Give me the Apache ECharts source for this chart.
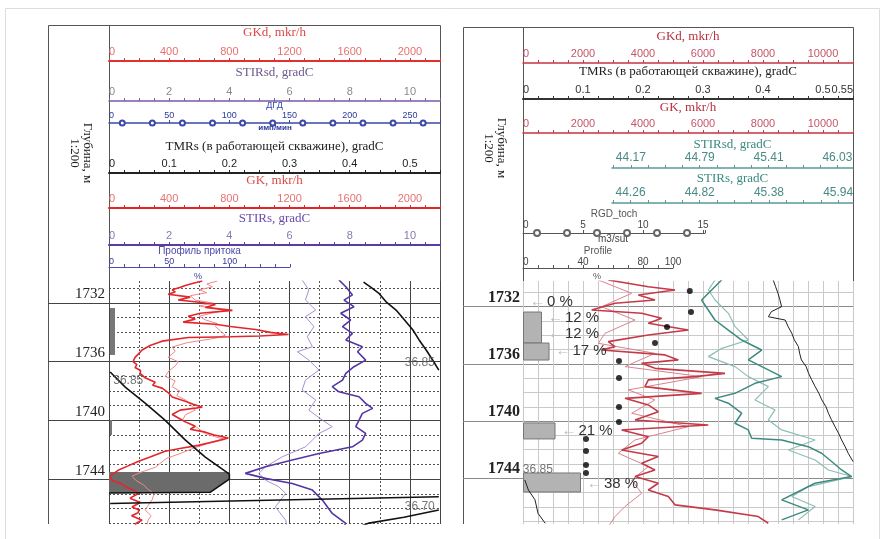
<!DOCTYPE html>
<html>
<head>
<meta charset="utf-8">
<script src="https://cdn.jsdelivr.net/npm/echarts@6/dist/echarts.min.js"></script>
<style>
html,body{margin:0;padding:0;background:#fff}
#chart{width:886px;height:539px}
</style>
</head>
<body>
<div id="chart"></div>
<script>
// ---- depth marks
const depthLabels = [1732, 1736, 1740, 1744];
const depthMinor = [1731, 1733, 1734, 1735, 1737, 1738, 1739, 1741, 1742, 1743, 1745, 1746, 1747];
const depthAll = [1731, 1732, 1733, 1734, 1735, 1736, 1737, 1738, 1739, 1740, 1741, 1742, 1743, 1744, 1745, 1746, 1747];

// ---- left panel tick labels
const lGkLabels = [0, 400, 800, 1200, 1600, 2000];
const lStirLabels = [0, 2, 4, 6, 8, 10];
const lDgdLabels = [0, 50, 100, 150, 200, 250];
const lDgdMarks = [11, 36, 61, 86, 111, 136, 161, 186, 211, 236, 261];
const lTmrLabels = [0, 0.1, 0.2, 0.3, 0.4, 0.5];
const lProfLabels = [0, 50, 100];
const lGridDot = [200, 600, 1000, 1400, 1800];

// ---- right panel tick labels
const rGkLabels = [0, 2000, 4000, 6000, 8000, 10000];
const rTmrLabels = [0, 0.1, 0.2, 0.3, 0.4, 0.5, 0.55];
const rStirsdLabels = [44.0, 44.17, 44.79, 45.41, 46.03, 46.17];
const rStirsLabels = [44.11, 44.26, 44.82, 45.38, 45.94, 46.06];
const rRgdLabels = [0, 5, 10, 15];
const rRgdMarks = [1.17, 3.67, 6.17, 8.67, 11.17, 13.67];
const rProfLabels = [0, 40, 80, 100];

// ---- left panel curves [value, depth]
const lGK = [[620,1730.5],[560,1730.65],[507,1730.8],[470,1730.95],[420,1731.1],[440,1731.25],[393,1731.4],[540,1731.6],[460,1731.8],[600,1731.95],[707,1732.1],[640,1732.3],[820,1732.5],[607,1732.7],[527,1732.9],[573,1733.1],[493,1733.3],[707,1733.45],[807,1733.6],[973,1733.8],[1073,1734.0],[1193,1734.15],[1000,1734.25],[807,1734.3],[527,1734.35],[353,1734.6],[273,1734.9],[220,1735.2],[193,1735.5],[173,1735.7],[160,1736.0],[185,1736.2],[173,1736.4],[210,1736.6],[207,1736.8],[240,1737.1],[307,1737.4],[290,1737.6],[353,1737.8],[393,1738.1],[420,1738.4],[507,1738.7],[560,1738.9],[620,1739.1],[473,1739.3],[420,1739.6],[473,1739.9],[507,1740.1],[573,1740.4],[540,1740.6],[640,1740.8],[700,1741.0],[793,1741.2],[673,1741.5],[593,1741.7],[480,1741.9],[373,1742.1],[273,1742.5],[193,1742.8],[127,1743.1],[60,1743.4],[7,1743.8],[20,1744.1],[80,1744.3],[107,1744.5],[173,1744.8],[193,1745.0],[140,1745.3],[207,1745.6],[153,1745.9],[200,1746.1],[193,1746.3],[150,1746.5],[220,1746.8],[180,1747.0],[173,1747.2]];
const lGKd = [[720,1730.5],[650,1730.7],[687,1730.9],[600,1731.1],[650,1731.3],[540,1731.5],[573,1731.8],[690,1732.0],[600,1732.2],[773,1732.5],[680,1732.7],[600,1732.9],[640,1733.15],[720,1733.4],[707,1733.6],[740,1733.9],[773,1734.2],[707,1734.4],[520,1734.7],[420,1735.0],[440,1735.3],[393,1735.7],[460,1736.0],[440,1736.3],[400,1736.6],[373,1737.0],[440,1737.3],[420,1737.7],[470,1738.0],[450,1738.3],[507,1738.6],[540,1738.9],[573,1739.3],[510,1739.6],[487,1740.0],[560,1740.3],[600,1740.6],[640,1740.9],[700,1741.1],[773,1741.3],[650,1741.6],[560,1741.9],[487,1742.2],[380,1742.6],[307,1743.2],[220,1743.5],[153,1743.8],[180,1744.1],[230,1744.4],[260,1744.7],[300,1745.0],[287,1745.4],[260,1745.8],[240,1746.1],[280,1746.5],[260,1746.8],[250,1747.2]];
const lSTIRs = [[7.64,1730.43],[7.87,1730.89],[8.09,1731.45],[7.81,1731.8],[8.14,1732.25],[7.7,1732.7],[8.03,1733.16],[7.76,1733.61],[8.09,1734.07],[7.87,1734.52],[8.42,1734.98],[8.26,1735.32],[8.53,1735.89],[8.14,1736.34],[7.87,1736.8],[7.76,1737.25],[7.42,1737.7],[7.64,1738.05],[8.31,1738.39],[8.53,1738.84],[8.76,1739.18],[8.42,1739.52],[8.31,1739.98],[8.2,1740.43],[8.53,1740.89],[8.42,1741.34],[8.09,1741.8],[6.98,1742.25],[6.09,1742.7],[5.2,1743.16],[4.53,1743.61],[5.2,1743.95],[6.09,1744.3],[6.76,1744.75],[7.09,1745.43],[7.42,1746.34],[7.87,1747.02],[7.64,1747.7]];
const lSTIRsd = [[6.42,1730.43],[6.64,1731.11],[6.53,1731.8],[6.87,1732.48],[6.53,1732.93],[6.81,1733.61],[6.59,1734.3],[6.76,1734.98],[6.26,1735.32],[6.64,1735.89],[6.98,1736.57],[6.53,1737.25],[6.42,1737.93],[6.87,1738.61],[6.64,1739.3],[7.09,1739.98],[7.42,1740.43],[6.98,1740.89],[6.76,1741.34],[6.53,1741.8],[5.76,1742.48],[5.2,1743.16],[4.98,1743.61],[5.2,1744.07],[5.64,1744.52],[5.87,1744.98],[5.53,1745.89],[5.87,1746.8],[5.98,1747.7]];
const lTmrA = [[0.423,1730.57],[0.436,1730.95],[0.448,1731.32],[0.46,1731.9],[0.477,1732.48],[0.49,1733.1],[0.505,1733.84],[0.515,1734.5],[0.527,1735.2],[0.538,1735.9],[0.548,1736.57]];
const lTmrB = [[0.002,1736.7],[0.027,1737.73],[0.06,1738.82],[0.093,1739.98],[0.127,1741.34],[0.16,1742.5],[0.2,1743.66],[0.2,1744.0],[0.168,1744.9],[0.0,1744.95]];
const lTmrC = [[0.548,1745.2],[0.002,1745.66]];
const lTmrD = [[0.548,1746.1],[0.49,1746.6],[0.432,1747.0],[0.4,1747.5]];
const lTmrNotes = [[0.548,1736.57,'36.85'],[0.002,1736.7,'36.85'],[0.548,1746.1,'36.70']];
const lProfile = [[0,1743.52],[100,1743.52],[100,1744.0],[84,1744.95],[0,1744.95]];
const lPerf = [[1732.34,1735.54],[1739.98,1741.0]];

// ---- right panel curves [value, depth]
const rGK = [[2844,1730.13],[4177,1730.6],[5066,1730.83],[3844,1731.18],[4399,1731.53],[3066,1731.76],[2288,1732.23],[3955,1732.46],[4621,1732.81],[4177,1733.16],[5510,1733.63],[4177,1733.98],[2844,1734.44],[3066,1734.79],[2622,1735.03],[4733,1735.37],[5177,1735.72],[3955,1735.96],[4399,1736.31],[6732,1736.66],[5732,1736.89],[4177,1737.12],[4066,1737.59],[5955,1738.06],[3399,1738.41],[4177,1738.87],[4510,1739.34],[3733,1739.92],[6177,1740.27],[3288,1740.62],[4177,1741.09],[3955,1741.55],[3288,1742.02],[4510,1742.48],[3955,1742.95],[4399,1743.42],[3733,1743.88],[4510,1744.35],[4177,1744.82],[4844,1745.28],[5066,1745.86],[6399,1746.21],[7843,1746.68],[8176,1747.15]];
const rGKd = [[2511,1730.13],[3622,1731.06],[2622,1732.0],[3733,1732.93],[2733,1733.86],[2511,1734.56],[4399,1735.26],[3399,1736.19],[5955,1736.89],[3510,1737.82],[4399,1738.52],[3622,1739.45],[5510,1740.39],[3733,1741.32],[3177,1742.25],[4177,1743.18],[3622,1744.12],[3955,1745.05],[3399,1745.98],[3066,1746.68],[2844,1747.38]];
const rSTIRs = [[44.997,1730.13],[44.916,1730.83],[44.835,1731.53],[44.889,1732.23],[44.943,1732.93],[45.051,1733.63],[45.159,1734.33],[45.321,1735.03],[45.213,1735.72],[45.375,1736.42],[45.483,1736.89],[45.267,1737.36],[45.105,1738.06],[44.943,1738.41],[45.051,1738.75],[45.159,1739.45],[45.105,1740.15],[45.213,1740.62],[45.24,1741.2],[45.483,1741.32],[45.698,1741.79],[45.806,1742.25],[45.887,1742.83],[45.968,1743.42],[46.049,1743.88],[45.752,1744.35],[45.644,1744.82],[45.483,1745.51],[45.698,1746.21],[45.483,1746.91]];
const rSTIRsd = [[44.928,1730.13],[44.868,1730.83],[44.928,1731.53],[45.048,1732.46],[45.108,1733.39],[45.228,1734.33],[44.988,1734.91],[44.868,1735.49],[45.108,1736.19],[45.228,1736.89],[45.408,1737.59],[45.288,1738.52],[45.468,1739.22],[45.408,1739.92],[45.528,1740.62],[45.829,1741.32],[45.588,1742.02],[45.829,1742.72],[45.949,1743.42],[46.159,1743.88],[45.769,1744.58],[45.619,1745.28],[45.829,1745.98],[45.679,1746.91]];
const rTmrA = [[0.417,1730.13],[0.421,1730.6],[0.425,1731.06],[0.428,1731.5],[0.431,1732.0],[0.414,1732.34],[0.409,1732.7],[0.437,1732.93],[0.442,1733.4],[0.448,1733.86],[0.452,1734.3],[0.459,1734.79],[0.461,1735.25],[0.464,1735.72],[0.472,1736.2],[0.476,1736.66],[0.481,1737.1],[0.487,1737.59],[0.493,1738.05],[0.498,1738.52],[0.505,1739.0],[0.509,1739.45],[0.514,1739.9],[0.52,1740.39],[0.526,1740.85],[0.531,1741.32],[0.537,1741.8],[0.542,1742.25],[0.55,1742.83]];
const rTmrB = [[0.003,1744.12],[0.009,1744.82],[0.02,1745.51],[0.025,1746.45],[0.037,1747.15]];
const rTmrNotes = [[0.003,1744.12,'36.85']];
const rRgdPoints = [[13.9,1730.9],[14.0,1732.37],[12.0,1733.42],[11.0,1734.54],[8.0,1735.8],[8.0,1736.99],[8.0,1739.01],[8.0,1740.06],[5.25,1741.25],[5.25,1742.09],[5.25,1743.07],[5.25,1743.63]];
const rProfBars = [[12,1732.37,1734.54],[17,1734.54,1735.73],[21,1740.13,1741.25],[38,1743.63,1744.96]];
const rProfNotes = [[0,1731.67,'0 %'],[12,1732.79,'12 %'],[12,1733.91,'12 %'],[17,1735.1,'17 %'],[21,1740.69,'21 %'],[38,1744.4,'38 %']];

const SANS = '"Liberation Sans", Arial, sans-serif';
const SERIF = '"Liberation Serif", "Times New Roman", serif';
const plain = v => String(v);

const grids = [], xAxes = [], yAxes = [], series = [];
const hidden = {splitLine:{show:false}, axisLine:{show:false}, axisTick:{show:false}, axisLabel:{show:false}};

function addLayer(box, xa, ya) {
  const i = grids.length;
  grids.push(Object.assign({containLabel:false, outerBoundsMode:'none'}, box));
  xAxes.push(Object.assign({type:'value', gridIndex:i}, hidden, xa));
  yAxes.push(Object.assign({type:'value', gridIndex:i}, hidden, ya));
  return i;
}

// a header scale: axis line at y, labels and title above it
function header(o) {
  return addLayer({left:o.left, width:o.width, top:o.y, height:4}, {
    position:'top', min:o.min, max:o.max, interval:o.interval,
    axisLine:{show:true, onZero:false, lineStyle:{color:o.color, width:o.lw || 1.5}},
    axisTick:{show:true, length:3, customValues:o.ticks, lineStyle:{color:o.color, width:1}},
    axisLabel:{show:true, customValues:o.labels, color:o.labelColor || o.color, fontSize:o.fs || 11,
      fontFamily:SANS, margin:o.margin == null ? 4 : o.margin,
      alignMinLabel:'left', alignMaxLabel:o.alignMax || 'center', formatter:o.fmt || plain},
    name:o.name, nameLocation:'middle', nameGap:o.gap,
    nameTextStyle:{color:o.nameColor || o.color, fontSize:o.nfs || 13, fontFamily:o.nff || SERIF}
  }, {min:0, max:1});
}

const PT = 281, PH = 243;
const LY = {min:1730.5, max:1747.06, inverse:true};
const RY = {min:1730.2, max:1747.2, inverse:true};
function plot(left, width, xmin, xmax, yr, xa, ya) {
  return addLayer({left:left, width:width, top:PT, height:PH},
    Object.assign({min:xmin, max:xmax}, xa || {}),
    Object.assign({}, yr, ya || {}));
}
function curve(i, data, color, width) {
  series.push({type:'line', xAxisIndex:i, yAxisIndex:i, data:data, showSymbol:false, symbol:'none',
    lineStyle:{color:color, width:width}, clip:true, z:3});
}
function notes(i, list, pos) {
  series.push({type:'scatter', xAxisIndex:i, yAxisIndex:i, symbolSize:2, clip:false, z:4,
    itemStyle:{color:'rgba(0,0,0,0)'},
    data:list.map((n, k) => ({value:[n[0], n[1]],
      label:Object.assign({show:true, formatter:n[2], color:'#555', fontSize:12, fontFamily:SANS}, pos[k])}))});
}

// ================= LEFT PANEL =================
header({left:109, width:331, y:61, min:0, max:2200, interval:100, labels:lGkLabels, color:'#e0302f', labelColor:'#e57272', nameColor:'#e04848', name:'GKd, mkr/h', gap:22, lw:2});
header({left:109, width:331, y:101, min:0, max:11, interval:0.5, labels:lStirLabels, color:'#7a5aaa', labelColor:'#8a8a8a', nameColor:'#6c5a8c', name:'STIRsd, gradC', gap:22});
const lDgd = header({left:109, width:331, y:123, min:0, max:275, interval:50, labels:lDgdLabels, color:'#3a48a8', labelColor:'#2a3a9a', name:'ДГД', gap:11, fs:9, nfs:9, nff:SANS, margin:3});
series.push({type:'line', xAxisIndex:lDgd, yAxisIndex:lDgd, data:lDgdMarks.map(v => [v, 1]), symbol:'emptyCircle',
  symbolSize:5, showSymbol:true, lineStyle:{opacity:0}, itemStyle:{color:'#3a48a8', borderWidth:1}, clip:false, z:5});
header({left:109, width:331, y:173, min:0, max:0.55, interval:0.025, labels:lTmrLabels, color:'#222', labelColor:'#222', name:'TMRs (в работающей скважине), gradC', gap:20, lw:2});
header({left:109, width:331, y:208, min:0, max:2200, interval:100, labels:lGkLabels, color:'#e02525', labelColor:'#e57272', nameColor:'#e04848', name:'GK, mkr/h', gap:21, lw:2});
header({left:109, width:331, y:245, min:0, max:11, interval:0.5, labels:lStirLabels, color:'#5a3aa5', labelColor:'#8a78b0', nameColor:'#6a4aaa', name:'STIRs, gradC', gap:20, lw:2});
header({left:109, width:181, y:267, min:0, max:150, interval:12.5, labels:lProfLabels, color:'#4a4aaa', labelColor:'#3a3a9a', name:'Профиль притока', gap:8, fs:9, nfs:10, nff:SANS, margin:1, lw:1});

// grid lines
plot(109, 331, 0, 2200, LY,
  {axisTick:{show:false, customValues:lGridDot}, splitLine:{show:true, lineStyle:{color:'#555', type:[2, 2], width:1}}},
  {axisTick:{show:false, customValues:depthMinor}, splitLine:{show:true, lineStyle:{color:'#555', type:[2, 2], width:1}}});
plot(109, 331, 0, 2200, LY, {interval:400, splitLine:{show:true, lineStyle:{color:'#444', width:1}}}, {});
plot(48, 392, 0, 1, LY, {}, {
  axisTick:{show:false, customValues:depthLabels},
  axisLabel:{show:true, inside:true, customValues:depthLabels, formatter:plain, margin:57, align:'right', verticalAlign:'bottom',
    fontFamily:SERIF, fontSize:15, color:'#222', padding:[0, 0, 1, 0]},
  splitLine:{show:true, lineStyle:{color:'#444', width:1}}});

// profile fill and perforations
const lProf = plot(109, 331, 0, 275.83, LY);
series.push({type:'custom', xAxisIndex:lProf, yAxisIndex:lProf, data:[[0, 1744]], clip:true, z:2,
  renderItem:(p, api) => ({type:'polygon', shape:{points:lProfile.map(pt => api.coord(pt))}, style:{fill:'#6b6b6b'}})});
const lGk = plot(109, 331, 0, 2200, LY);
series.push({type:'custom', xAxisIndex:lGk, yAxisIndex:lGk, data:lPerf.map(d => [0, d[0], d[1]]), clip:false, z:2,
  renderItem:(p, api) => {
    const a = api.coord([0, api.value(1)]), b = api.coord([0, api.value(2)]);
    const w = p.dataIndex === 0 ? 5 : 2;
    return {type:'rect', shape:{x:a[0] + 1, y:a[1], width:w, height:b[1] - a[1]}, style:{fill:'#777'}};
  }});
curve(lGk, lGKd, '#ee8a8a', 1);
curve(lGk, lGK, '#e3262b', 1.6);
const lStir = plot(109, 331, 0, 11, LY);
curve(lStir, lSTIRsd, '#a890d2', 1);
curve(lStir, lSTIRs, '#5535a5', 1.6);
const lTmr = plot(109, 331, 0, 0.55, LY);
[lTmrA, lTmrB, lTmrC, lTmrD].forEach(s => curve(lTmr, s, '#111', 1.6));
notes(lTmr, lTmrNotes, [{position:'left', offset:[2, -7]}, {position:'right', offset:[-3, 9]}, {position:'left', offset:[2, -3]}]);

// ================= RIGHT PANEL =================
header({left:523, width:330, y:63, min:0, max:11000, interval:500, labels:rGkLabels, color:'#c53545', labelColor:'#c4566a', nameColor:'#b8303f', name:'GKd, mkr/h', gap:20});
header({left:523, width:330, y:99, min:0, max:0.55, interval:0.025, labels:rTmrLabels, color:'#333', labelColor:'#333', nameColor:'#222', name:'TMRs (в работающей скважине), gradC', gap:21, alignMax:'right', lw:2});
header({left:523, width:330, y:133, min:0, max:11000, interval:500, labels:rGkLabels, color:'#c53545', labelColor:'#c4566a', nameColor:'#b8303f', name:'GK, mkr/h', gap:19});
const tealTicks = (a, b, s) => { const t = []; for (let v = a; v <= b + 1e-9; v += s) t.push(+v.toFixed(3)); return t; };
header({left:612, width:241, y:168, min:44.0, max:46.17, ticks:tealTicks(44.015, 46.17, 0.155), labels:rStirsdLabels, color:'#5a9a94', labelColor:'#4a8a86', nameColor:'#3a8a80', name:'STIRsd, gradC', gap:17, alignMax:'right', fs:12, fmt:v => v.toFixed(2)});
header({left:612, width:241, y:203, min:44.11, max:46.06, ticks:tealTicks(44.12, 46.06, 0.14), labels:rStirsLabels, color:'#5a9a94', labelColor:'#4a8a86', nameColor:'#3a8a80', name:'STIRs, gradC', gap:18, alignMax:'right', fs:12, fmt:v => v.toFixed(2)});
const rRgdH = header({left:523, width:182, y:233, min:0, max:15.17, interval:5, labels:rRgdLabels, color:'#555', labelColor:'#444', name:'RGD_toch', gap:13, fs:10, nfs:10, nff:SANS, margin:3, lw:1});
series.push({type:'line', xAxisIndex:rRgdH, yAxisIndex:rRgdH, data:rRgdMarks.map(v => [v, 1]), symbol:'emptyCircle',
  symbolSize:6, showSymbol:true, lineStyle:{opacity:0}, itemStyle:{color:'#666', borderWidth:1}, clip:false, z:5});
header({left:523, width:150, y:268, min:0, max:100, interval:10, labels:rProfLabels, color:'#555', labelColor:'#444', name:'Profile', gap:10, fs:10, nfs:10, nff:SANS, margin:1, lw:1});

// grid lines
plot(523, 330, 0, 11000, RY,
  {interval:500, splitLine:{show:true, lineStyle:{color:'#c9c9c9', width:1}}},
  {axisTick:{show:false, customValues:depthAll}, splitLine:{show:true, lineStyle:{color:'#c9c9c9', width:1}}});
plot(463, 390, 0, 1, RY, {}, {
  axisTick:{show:false, customValues:depthLabels},
  axisLabel:{show:true, inside:true, customValues:depthLabels, formatter:plain, margin:57, align:'right', verticalAlign:'bottom',
    fontFamily:SERIF, fontSize:16, fontWeight:'bold', color:'#222', padding:[0, 0, 1, 0]},
  splitLine:{show:true, lineStyle:{color:'#8a8a8a', width:1}}});

// profile bars and notes
const rProf = plot(523, 330, 0, 220, RY);
series.push({type:'custom', xAxisIndex:rProf, yAxisIndex:rProf, data:rProfBars, clip:true, z:2,
  renderItem:(p, api) => {
    const a = api.coord([0, api.value(1)]), b = api.coord([api.value(0), api.value(2)]);
    return {type:'rect', shape:{x:a[0] + 0.5, y:a[1], width:b[0] - a[0], height:b[1] - a[1]},
      style:{fill:'#b3b3b3', stroke:'#777', lineWidth:1}};
  }});
series.push({type:'custom', xAxisIndex:rProf, yAxisIndex:rProf, data:rProfNotes.map(n => [n[0], n[1]]), clip:false, z:4,
  renderItem:(p, api) => {
    const c = api.coord([api.value(0), api.value(1)]);
    return {type:'group', children:[
      {type:'text', x:c[0] + 7, y:c[1], style:{text:'←', fill:'#bbb', font:'15px ' + SANS, verticalAlign:'middle', textVerticalAlign:'middle'}},
      {type:'text', x:c[0] + 24, y:c[1], style:{text:rProfNotes[p.dataIndex][2], fill:'#333', font:'15px ' + SANS, verticalAlign:'middle', textVerticalAlign:'middle'}}
    ]};
  }});
const rGk = plot(523, 330, 0, 11000, RY);
curve(rGk, rGKd, '#d9828c', 1);
curve(rGk, rGK, '#c53a48', 1.6);
const rStirsd = plot(612, 241, 44.0, 46.17, RY);
curve(rStirsd, rSTIRsd, '#8cbdb6', 1.2);
const rStirs = plot(612, 241, 44.11, 46.06, RY);
curve(rStirs, rSTIRs, '#3f8a80', 1.5);
const rTmr = plot(523, 330, 0, 0.55, RY);
curve(rTmr, rTmrA, '#222', 1);
curve(rTmr, rTmrB, '#222', 1);
notes(rTmr, rTmrNotes, [{position:'right', offset:[-8, -10]}]);
const rRgd = plot(523, 330, 0, 27.5, RY);
series.push({type:'scatter', xAxisIndex:rRgd, yAxisIndex:rRgd, data:rRgdPoints, symbolSize:6, itemStyle:{color:'#000'}, z:5});

// ================= frames and free text =================
const frame = {stroke:'#555', lineWidth:1, fill:null};
const graphic = [
  {type:'rect', silent:true, z:-1, shape:{x:5.5, y:8.5, width:874, height:560}, style:{stroke:'#ddd', lineWidth:1, fill:'rgba(0,0,0,0)'}},
  {type:'polyline', silent:true, shape:{points:[[48.5, 524], [48.5, 25.5], [440.5, 25.5], [440.5, 524]]}, style:frame},
  {type:'line', silent:true, shape:{x1:109.5, y1:25.5, x2:109.5, y2:524}, style:frame},
  {type:'polyline', silent:true, shape:{points:[[463.5, 524], [463.5, 27.5], [853.5, 27.5], [853.5, 524]]}, style:frame},
  {type:'line', silent:true, shape:{x1:523.5, y1:27.5, x2:523.5, y2:524}, style:frame},
  {type:'text', silent:true, x:81, y:153, rotation:-Math.PI / 2,
    style:{text:'Глубина, м\n1:200', font:'13px ' + SERIF, fill:'#222', align:'center', verticalAlign:'middle', lineHeight:13}},
  {type:'text', silent:true, x:495, y:148, rotation:-Math.PI / 2,
    style:{text:'Глубина, м\n1:200', font:'13px ' + SERIF, fill:'#222', align:'center', verticalAlign:'middle', lineHeight:13}},
  {type:'text', silent:true, x:275, y:128, style:{text:'имп/мин', font:'bold 8px ' + SANS, fill:'#2a3a9a', align:'center', verticalAlign:'middle'}},
  {type:'text', silent:true, x:613, y:239, style:{text:'m3/sut', font:'10px ' + SANS, fill:'#444', align:'center', verticalAlign:'middle'}},
  {type:'text', silent:true, x:198, y:277, style:{text:'%', font:'9px ' + SANS, fill:'#3a3a9a', align:'center', verticalAlign:'middle'}},
  {type:'text', silent:true, x:597, y:277, style:{text:'%', font:'9px ' + SANS, fill:'#555', align:'center', verticalAlign:'middle'}}
];

const chart = echarts.init(document.getElementById('chart'), null, {renderer:'canvas'});
chart.setOption({
  animation:false,
  backgroundColor:'#fff',
  grid:grids,
  xAxis:xAxes,
  yAxis:yAxes,
  series:series,
  graphic:graphic
});
</script>
</body>
</html>
